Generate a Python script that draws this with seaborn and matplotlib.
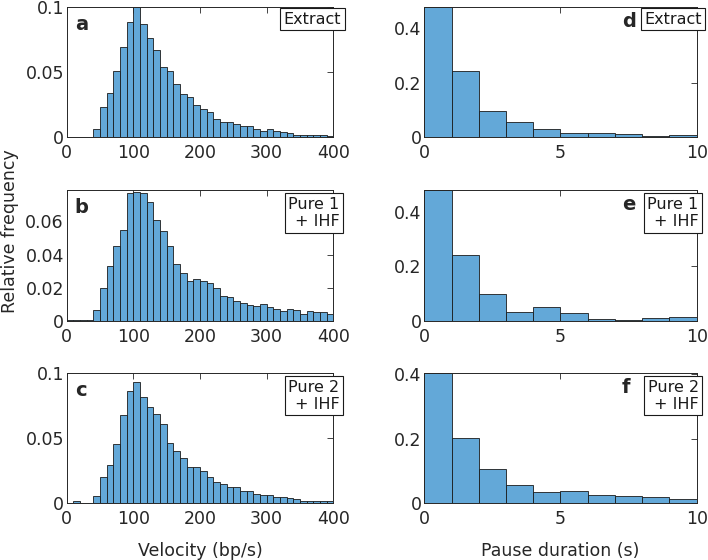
import numpy as np
import pandas as pd
import matplotlib
matplotlib.use("Agg")
import matplotlib.pyplot as plt
import seaborn as sns

sns.set_theme(style="white")
plt.rcParams['font.family'] = ['DejaVu Sans']

# bin centres (velocity: 10 bp/s bins, pause: 1 s bins)
vel_bins = np.arange(5, 400, 10)
pause_bins = np.arange(0.5, 10, 1)

# relative frequency per bin
vel_extract = [0.0005, 0.0005, 0.0005, 0.0003, 0.0061, 0.0235, 0.034, 0.051, 0.069, 0.088,
               0.100, 0.087, 0.076, 0.067, 0.054, 0.051, 0.041, 0.033, 0.031, 0.025,
               0.022, 0.019, 0.014, 0.012, 0.012, 0.010, 0.0087, 0.0087, 0.0066, 0.0046,
               0.0061, 0.0046, 0.0038, 0.003, 0.002, 0.002, 0.0018, 0.0018, 0.0015, 0.001]
vel_pure1 = [0.0004, 0.0004, 0.0004, 0.0003, 0.0064, 0.0196, 0.033, 0.045, 0.055, 0.077,
             0.078, 0.077, 0.072, 0.061, 0.054, 0.045, 0.034, 0.029, 0.024, 0.025,
             0.024, 0.023, 0.020, 0.015, 0.0144, 0.012, 0.0104, 0.0094, 0.0088, 0.010,
             0.008, 0.007, 0.006, 0.0068, 0.0066, 0.004, 0.0056, 0.005, 0.005, 0.004]
vel_pure2 = [0.0005, 0.0015, 0.0005, 0.0005, 0.0056, 0.020, 0.029, 0.045, 0.0675, 0.086,
             0.093, 0.081, 0.0733, 0.068, 0.0607, 0.0464, 0.0396, 0.035, 0.0277, 0.0277,
             0.025, 0.020, 0.016, 0.0147, 0.0127, 0.0127, 0.0094, 0.0094, 0.0071, 0.006,
             0.0063, 0.0046, 0.0046, 0.0043, 0.0036, 0.002, 0.0018, 0.002, 0.002, 0.0015]
pause_extract = [0.48, 0.242, 0.097, 0.055, 0.029, 0.0146, 0.016, 0.011, 0.005, 0.007]
pause_pure1 = [0.48, 0.24, 0.099, 0.033, 0.050, 0.027, 0.005, 0.004, 0.0085, 0.012]
pause_pure2 = [0.406, 0.203, 0.105, 0.056, 0.034, 0.037, 0.025, 0.023, 0.021, 0.013]

conditions = ["Extract", "Pure 1\n+ IHF", "Pure 2\n+ IHF"]
vel_data = [vel_extract, vel_pure1, vel_pure2]
pause_data = [pause_extract, pause_pure1, pause_pure2]
vel_ylims = [0.1, 0.079, 0.1]
vel_yticks = [[0, 0.05, 0.1], [0, 0.02, 0.04, 0.06], [0, 0.05, 0.1]]
pause_ylims = [0.48, 0.48, 0.406]
left_letters = ["a", "b", "c"]
right_letters = ["d", "e", "f"]

bar_color = "#63A8D8"
fs = 12.5

fig = plt.figure(figsize=(7.08, 5.6), dpi=100)
row_bottoms = [0.7548, 0.4273, 0.1013]
row_h = 0.2335


def style_axis(ax):
    ax.tick_params(direction="in", length=4, width=0.6, colors="#262626",
                   labelsize=fs, top=True, right=True)
    ax.tick_params(axis="x", pad=5)
    ax.tick_params(axis="y", pad=2)
    for s in ax.spines.values():
        s.set_color("#262626")
        s.set_linewidth(0.7)
    ax.set_ylabel("")
    ax.set_xlabel("")
    ax.yaxis.set_major_formatter(matplotlib.ticker.FormatStrFormatter("%g"))
    ax.xaxis.set_major_formatter(matplotlib.ticker.FormatStrFormatter("%g"))


def add_box(ax, text, dx, dy):
    ax.annotate(text, xy=(1, 1), xycoords="axes fraction", xytext=(dx, dy),
                textcoords="offset pixels", ha="right", va="top", fontsize=11.5,
                multialignment="right", color="#1a1a1a", annotation_clip=False,
                bbox=dict(boxstyle="square,pad=0.22", facecolor="white",
                          edgecolor="#1a1a1a", linewidth=0.8))


for i in range(3):
    # velocity histograms
    vel_df = pd.DataFrame({"bin": vel_bins, "freq": vel_data[i]})
    axl = fig.add_axes([0.0942, row_bottoms[i], 0.3766, row_h])
    sns.histplot(data=vel_df, x="bin", weights="freq", binwidth=10, binrange=(0, 400),
                 ax=axl, color=bar_color, alpha=1, edgecolor="#1a1a1a", linewidth=0.6)
    axl.set_xlim(0, 400)
    axl.set_ylim(0, vel_ylims[i])
    axl.set_xticks([0, 100, 200, 300, 400])
    axl.set_yticks(vel_yticks[i])
    style_axis(axl)
    axl.text(0.03, 0.82, left_letters[i], transform=axl.transAxes, fontsize=14,
             fontweight="bold", va="baseline", ha="left")
    add_box(axl, conditions[i], 8 if i == 0 else 6, -5 if i == 0 else -7)

    # pause histograms
    pause_df = pd.DataFrame({"bin": pause_bins, "freq": pause_data[i]})
    axr = fig.add_axes([0.5993, row_bottoms[i], 0.3847, row_h])
    sns.histplot(data=pause_df, x="bin", weights="freq", binwidth=1, binrange=(0, 10),
                 ax=axr, color=bar_color, alpha=1, edgecolor="#1a1a1a", linewidth=0.6)
    axr.set_xlim(0, 10)
    axr.set_ylim(0, pause_ylims[i])
    axr.set_xticks([0, 5, 10])
    axr.set_yticks([0, 0.2, 0.4])
    style_axis(axr)
    axr.text(0.725, 0.845, right_letters[i], transform=axr.transAxes, fontsize=14,
             fontweight="bold", va="baseline", ha="left")
    add_box(axr, conditions[i], 5 if i == 0 else 2, -5 if i == 0 else -7)

    if i == 2:
        axl.set_xlabel("Velocity (bp/s)", fontsize=fs, color="#262626", labelpad=10)
        axr.set_xlabel("Pause duration (s)", fontsize=fs, color="#262626", labelpad=10)

fig.text(0.014, 0.5875, "Relative frequency", rotation=90, va="center", ha="center",
         fontsize=fs, color="#262626")

fig.savefig("out.png", dpi=100)
